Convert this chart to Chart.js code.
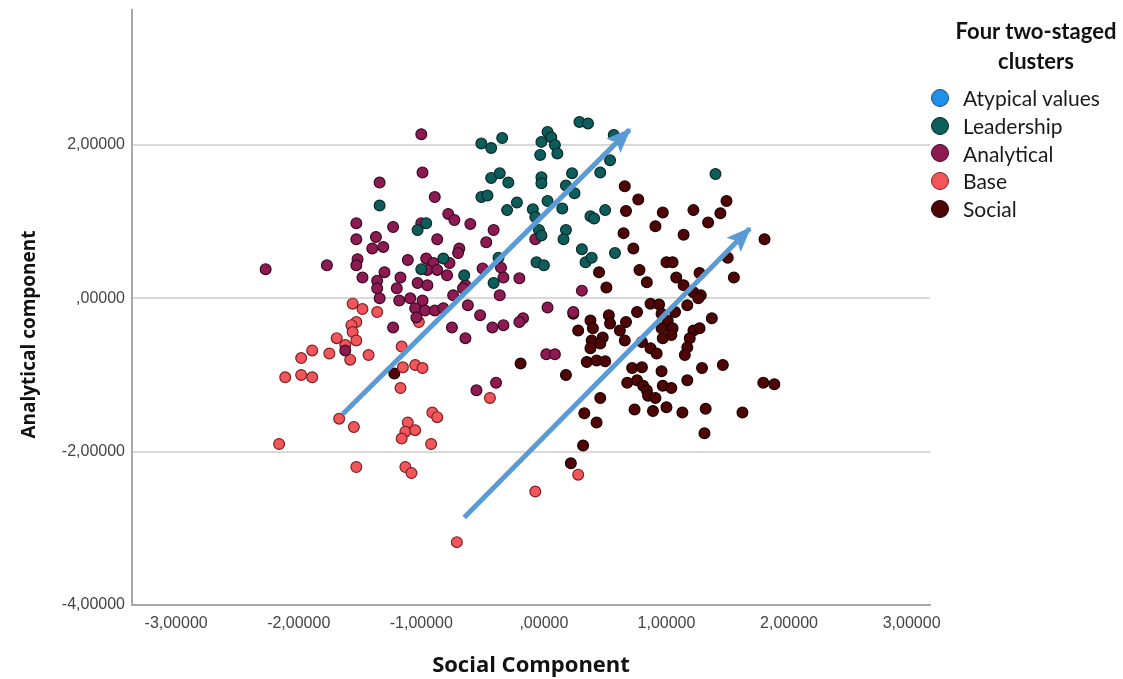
<!DOCTYPE html>
<html>
<head>
<meta charset="utf-8">
<script src="https://cdn.jsdelivr.net/npm/chart.js@4/dist/chart.umd.min.js"></script>
<style>
html,body{margin:0;padding:0;background:#fff;overflow:hidden;}
#wrap{position:relative;width:1123px;height:679px;}
#c{position:absolute;left:0;top:0;}
#legendTitle{position:absolute;left:946px;top:16px;width:180px;text-align:center;font-family:Lato,'Noto Sans',sans-serif;font-weight:700;font-size:22px;line-height:30px;color:#111;}
#legendItems{position:absolute;left:930px;top:84px;font-family:Lato,'Noto Sans',sans-serif;font-size:21px;color:#1a1a1a;}
.li{display:flex;align-items:center;height:27.7px;}
.sw{width:18px;height:18px;border-radius:50%;box-sizing:border-box;border:1.5px solid;margin-left:1px;margin-right:14px;}
</style>
</head>
<body>
<div id="wrap">
<canvas id="c" width="1123" height="679"></canvas>
<div id="legendTitle"></div>
<div id="legendItems"></div>
</div>
<script>
// ---- tick labels ----
const xTickValues = [-3, -2, -1, 0, 1, 2, 3];
const xTickLabels = ['-3,00000', '-2,00000', '-1,00000', ',00000', '1,00000', '2,00000', '3,00000'];
const yTickValues = [-4, -2, 0, 2];
const yTickLabels = ['-4,00000', '-2,00000', ',00000', '2,00000'];

// ---- categories ----
const clusterNames = ['Atypical values', 'Leadership', 'Analytical', 'Base', 'Social'];
const legendTitle = ['Four two-staged', 'clusters'];
const xTitle = 'Social Component';
const yTitle = 'Analytical component';

// ---- series values: [social component, analytical component] ----
const atypical = [];
const leadership = [[-0.51,2.02],[-0.43,1.96],[-0.34,2.09],[0.03,2.17],[-0.02,2.04],[0.06,2.10],[0.09,2.00],[0.11,1.89],[-0.03,1.87],[0.29,2.30],[0.36,2.28],[0.57,2.13],[0.54,1.80],[0.46,1.64],[0.23,1.63],[-0.43,1.57],[-0.36,1.63],[-0.29,1.51],[-0.02,1.58],[-0.02,1.50],[0.18,1.47],[0.25,1.37],[1.40,1.62],[-0.51,1.32],[-0.46,1.34],[-0.22,1.25],[-0.30,1.15],[0.03,1.27],[-0.09,1.16],[-0.07,1.06],[0.15,1.17],[0.38,1.07],[0.41,1.04],[0.50,1.15],[-0.04,0.89],[-0.02,0.82],[0.18,0.89],[0.16,0.77],[-1.03,0.89],[-0.96,0.98],[0.31,0.64],[0.34,0.47],[0.39,0.53],[0.58,0.59],[-0.06,0.47],[0.00,0.43],[-0.82,0.52],[-1.00,0.38],[-0.65,0.30],[-0.41,0.20],[-0.37,0.53],[-1.34,1.21]];
const analytical = [[-1.00,2.14],[-0.99,1.64],[-1.34,1.51],[-0.89,1.32],[-1.53,0.98],[-1.23,0.93],[-1.53,0.77],[-1.37,0.80],[-1.31,0.67],[-1.40,0.65],[-1.00,0.98],[-0.78,1.10],[-0.73,1.02],[-0.60,0.97],[-0.87,0.77],[-0.69,0.65],[-0.70,0.59],[-0.47,0.73],[-0.41,0.89],[-0.07,0.77],[-2.27,0.38],[-1.77,0.43],[-1.52,0.51],[-1.53,0.43],[-1.48,0.27],[-1.30,0.34],[-1.36,0.23],[-1.11,0.50],[-1.17,0.27],[-0.96,0.52],[-0.90,0.46],[-0.95,0.37],[-0.87,0.37],[-0.77,0.46],[-0.79,0.30],[-0.64,0.17],[-1.03,0.20],[-0.95,0.17],[-0.50,0.39],[-0.35,0.40],[-0.33,0.27],[-0.20,0.26],[-1.36,0.13],[-1.34,0.00],[-1.20,0.13],[-1.18,-0.03],[-1.09,0.00],[-1.05,-0.13],[-0.99,-0.03],[-0.97,-0.16],[-1.04,-0.25],[-0.89,-0.16],[-0.82,-0.13],[-0.74,0.04],[-0.66,0.13],[-0.62,-0.09],[-0.52,-0.22],[-0.75,-0.38],[-0.64,-0.52],[-1.23,-0.38],[-1.62,-0.68],[-0.55,-1.20],[-0.39,-1.10],[0.31,0.10],[0.03,-0.12],[0.24,-0.18],[-0.36,0.04],[-0.17,-0.26],[-0.20,-0.31],[-0.42,-0.38],[-0.33,-0.35],[0.02,-0.73],[0.09,-0.73]];
const base = [[-1.56,-0.07],[-1.48,-0.14],[-1.36,-0.18],[-1.53,-0.31],[-1.57,-0.35],[-1.56,-0.44],[-1.53,-0.55],[-1.69,-0.52],[-1.62,-0.61],[-1.75,-0.72],[-1.58,-0.80],[-1.43,-0.74],[-1.89,-0.68],[-1.98,-0.78],[-2.11,-1.03],[-1.98,-1.00],[-1.89,-1.03],[-1.16,-0.63],[-1.15,-0.90],[-1.05,-0.87],[-0.99,-0.91],[-1.17,-1.17],[-1.67,-1.57],[-1.55,-1.68],[-0.91,-1.49],[-0.87,-1.55],[-1.11,-1.62],[-1.13,-1.74],[-1.05,-1.72],[-1.16,-1.83],[-2.16,-1.90],[-0.92,-1.90],[-1.53,-2.20],[-1.13,-2.20],[-1.08,-2.28],[-0.07,-2.52],[-0.71,-3.18],[0.28,-2.30],[-1.02,-0.31],[-0.44,-1.30]];
const social = [[0.66,1.46],[0.77,1.29],[0.67,1.14],[0.97,1.12],[1.22,1.15],[1.49,1.27],[1.44,1.11],[1.34,0.99],[0.91,0.94],[1.14,0.83],[0.65,0.85],[0.73,0.65],[1.80,0.77],[1.00,0.47],[1.05,0.47],[1.08,0.27],[1.14,0.17],[0.78,0.37],[0.84,0.21],[0.45,0.34],[0.51,0.14],[1.27,0.33],[1.50,0.53],[1.55,0.27],[1.22,0.08],[1.28,0.04],[1.17,-0.09],[0.87,-0.07],[0.94,-0.08],[0.76,-0.18],[0.67,-0.31],[1.37,-0.26],[0.24,-0.20],[0.28,-0.42],[0.38,-0.29],[0.40,-0.39],[0.53,-0.22],[0.54,-0.33],[0.96,-0.20],[1.01,-0.29],[1.05,-0.39],[0.96,-0.39],[1.22,-0.42],[0.62,-0.42],[0.39,-0.55],[0.48,-0.51],[0.46,-0.59],[0.38,-0.65],[0.35,-0.83],[0.43,-0.81],[0.50,-0.82],[0.66,-0.55],[0.80,-0.57],[0.87,-0.65],[0.92,-0.72],[1.04,-0.48],[0.97,-0.52],[1.07,-0.18],[1.26,0.00],[1.19,-0.52],[1.17,-0.64],[1.15,-0.74],[-0.19,-0.85],[0.18,-1.00],[0.72,-0.91],[0.80,-0.90],[0.68,-1.10],[0.76,-1.07],[0.81,-1.14],[0.84,-1.20],[0.85,-1.27],[0.91,-1.30],[0.89,-1.47],[0.97,-1.14],[1.04,-1.17],[0.96,-0.95],[1.17,-1.07],[1.29,-0.91],[1.46,-0.87],[0.74,-1.45],[1.00,-1.42],[1.13,-1.49],[1.32,-1.44],[1.31,-1.76],[0.46,-1.30],[0.33,-1.50],[0.43,-1.62],[0.32,-1.92],[0.22,-2.15],[1.27,-0.39],[1.79,-1.10],[1.88,-1.12],[1.62,-1.49],[-1.22,-0.98]];

// ---- trend arrows (tail, head) in data units ----
const arrowUpper = [[-1.64,-1.51],[0.70,2.20]];
const arrowLower = [[-0.65,-2.86],[1.68,0.91]];

// ---- styles ----
const fillColors = ['#1f8fe8', '#0f5d5a', '#8d1a52', '#f2565b', '#4f0505'];
const edgeColors = ['#1a4e7e', '#062b2a', '#3d0822', '#7d2022', '#1c0000'];
const arrowColor = '#5b9bd5';

const seriesList = [atypical, leadership, analytical, base, social];
const toXY = arr => arr.map(p => ({x: p[0], y: p[1]}));

const datasets = [];
[arrowUpper, arrowLower].forEach((a, i) => {
  datasets.push({
    label: 'arrow' + i, data: toXY(a), showLine: true, isArrow: true,
    borderColor: arrowColor, backgroundColor: arrowColor, borderWidth: 5,
    pointRadius: 0, borderCapStyle: 'butt', order: 0
  });
});
seriesList.forEach((s, i) => {
  datasets.push({
    label: clusterNames[i], data: toXY(s),
    backgroundColor: fillColors[i], borderColor: edgeColors[i],
    borderWidth: 1.2, pointRadius: 5.4, order: 1
  });
});

const arrowHeads = {
  id: 'arrowHeads',
  afterDatasetsDraw(chart) {
    const ctx = chart.ctx;
    chart.data.datasets.forEach((ds, i) => {
      if (!ds.isArrow) return;
      const pts = chart.getDatasetMeta(i).data;
      const a = pts[pts.length - 2], b = pts[pts.length - 1];
      const ang = Math.atan2(b.y - a.y, b.x - a.x);
      const L = 23, W = 10;
      ctx.save();
      ctx.translate(b.x, b.y);
      ctx.rotate(ang);
      ctx.fillStyle = ds.borderColor;
      ctx.beginPath();
      ctx.moveTo(2, 0);
      ctx.lineTo(-L, -W);
      ctx.lineTo(-L + 5, 0);
      ctx.lineTo(-L, W);
      ctx.closePath();
      ctx.fill();
      ctx.restore();
    });
  }
};

const yAxisTitle = {
  id: 'yAxisTitle',
  afterDraw(chart) {
    const ctx = chart.ctx, ca = chart.chartArea;
    ctx.save();
    ctx.translate(ca.left - 102, (ca.top + ca.bottom) / 2 + 27);
    ctx.rotate(-Math.PI / 2);
    ctx.font = "700 19px 'Open Sans', 'Noto Sans', sans-serif";
    ctx.fillStyle = '#111';
    ctx.textAlign = 'center';
    ctx.textBaseline = 'middle';
    ctx.fillText(yTitle, 0, 0);
    ctx.restore();
  }
};

const tickFont = {family: "'Liberation Sans', Arial, sans-serif", size: 16};

new Chart(document.getElementById('c'), {
  type: 'scatter',
  data: {datasets},
  options: {
    responsive: false, animation: false, events: [],
    layout: {padding: {left: 0, right: 193, top: 10, bottom: 0}},
    plugins: {legend: {display: false}, tooltip: {enabled: false}},
    scales: {
      x: {
        type: 'linear', min: -3.36, max: 3.15,
        afterFit: s => { s.height = 74; s.paddingLeft = 0; s.paddingRight = 0; },
        afterBuildTicks: s => { s.ticks = xTickValues.map(v => ({value: v})); },
        grid: {display: false, drawTicks: false},
        border: {display: true, color: '#a8a8a8', width: 2},
        ticks: {autoSkip: false, maxRotation: 0, padding: 9, color: '#444', font: tickFont,
                callback: (v, i) => xTickLabels[i]},
        title: {display: true, text: xTitle, color: '#111',
                font: {family: "'Open Sans', 'Noto Sans', sans-serif", size: 22, weight: '700'},
                padding: {top: 0, bottom: 0}}
      },
      y: {
        type: 'linear', min: -4, max: 3.76,
        afterFit: s => { s.width = 132; s.paddingTop = 0; s.paddingBottom = 0; },
        afterBuildTicks: s => { s.ticks = yTickValues.map(v => ({value: v})); },
        grid: {color: '#d9d9d9', lineWidth: 2, drawTicks: false},
        border: {display: true, color: '#a8a8a8', width: 2},
        ticks: {autoSkip: false, padding: 7, color: '#444', font: tickFont,
                callback: (v, i) => yTickLabels[i]}
      }
    }
  },
  plugins: [arrowHeads, yAxisTitle]
});

// ---- HTML legend ----
document.getElementById('legendTitle').innerHTML = legendTitle.join('<br>');
const li = document.getElementById('legendItems');
clusterNames.forEach((n, i) => {
  const row = document.createElement('div');
  row.className = 'li';
  const sw = document.createElement('span');
  sw.className = 'sw';
  sw.style.background = fillColors[i];
  sw.style.borderColor = edgeColors[i];
  const t = document.createElement('span');
  t.textContent = n;
  row.appendChild(sw); row.appendChild(t);
  li.appendChild(row);
});
</script>
</body>
</html>
